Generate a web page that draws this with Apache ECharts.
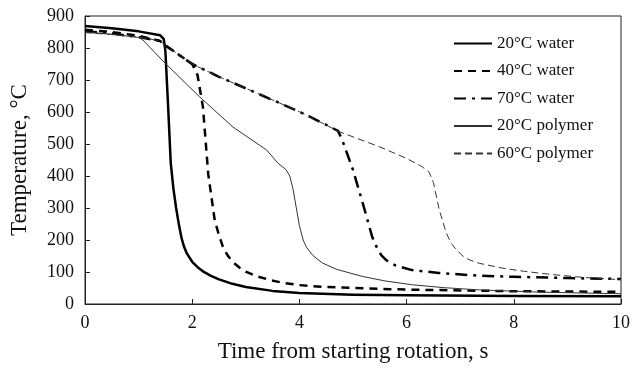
<!DOCTYPE html>
<html><head><meta charset="utf-8">
<script src="https://cdn.jsdelivr.net/npm/echarts@6/dist/echarts.min.js"></script>
<style>html,body{margin:0;padding:0;background:#fff}#c{width:633px;height:370px}</style>
</head><body><div id="c"></div>
<script>
const seriesNames = ['20°C water', '40°C water', '70°C water', '20°C polymer', '60°C polymer'];
const xTicks = [0, 2, 4, 6, 8, 10];
const yTicks = [0, 100, 200, 300, 400, 500, 600, 700, 800, 900];

const water20 = [[0,869],[0.5,862],[1.0,852],[1.4,840],[1.47,828],[1.5,790],[1.55,620],[1.6,440],[1.65,360],[1.7,300],[1.75,250],[1.8,207],[1.85,178],[1.9,158],[2.0,132],[2.1,115],[2.2,102],[2.35,88],[2.5,77],[2.75,63],[3.0,53],[3.5,41],[4.0,34],[5,29],[6,27],[8,25],[10,24]];
const water40 = [[0,857],[0.5,850],[1.0,838],[1.4,822],[1.5,808],[2.0,750],[2.1,715],[2.2,616],[2.3,405],[2.42,262],[2.5,215],[2.57,180],[2.66,152],[2.76,131],[2.88,114],[3.0,101],[3.2,87],[3.45,75],[3.7,66],[4.0,59],[4.5,53],[5,50],[6,45],[8,40],[10,38]];
const water70 = [[0,852],[0.5,845],[1.0,834],[1.4,822],[1.5,808],[2.0,750],[2.5,710],[3.0,674],[3.63,628],[4.0,601],[4.5,560],[4.72,541],[4.8,512],[5.0,419],[5.18,316],[5.36,209],[5.45,175],[5.53,152],[5.62,137],[5.8,120],[6.1,106],[6.6,97],[7.3,89],[8,85],[9,81],[10,78]];
const polymer20 = [[0,850],[0.5,843],[1.0,833],[1.08,825],[1.45,760],[2.14,647],[2.76,553],[3.39,481],[3.6,440],[3.75,420],[3.82,400],[3.88,360],[4.0,245],[4.07,200],[4.13,178],[4.25,152],[4.43,128],[4.7,108],[5.18,86],[5.6,72],[6.11,60],[6.7,51],[7.36,44],[8.5,37],[10,32]];
const polymer60 = [[0,848],[0.5,842],[1.0,834],[1.4,822],[1.5,808],[2.0,750],[2.5,710],[3.0,674],[3.63,628],[4.0,601],[4.75,538],[5.5,491],[6.0,455],[6.29,429],[6.42,412],[6.5,380],[6.61,294],[6.74,222],[6.83,190],[6.93,169],[7.05,150],[7.17,138],[7.36,127],[7.79,112],[8.2,102],[8.72,92],[9.3,83],[10,76]];

const font = 'Liberation Serif';
const chart = echarts.init(document.getElementById('c'));
function mk(name, data, width, color, type) {
  return { name, type: 'line', data, symbol: 'none', smooth: false, z: 3,
    lineStyle: { width, color, type, join: 'round' }, itemStyle: { color } };
}
chart.setOption({
  animation: false,
  grid: { left: 85, right: 11, top: 16, bottom: 66, show: true, borderColor: '#222', borderWidth: 1 },
  legend: {
    orient: 'vertical', left: 448, top: 30, itemWidth: 38, itemHeight: 12, itemGap: 10.5,
    itemStyle: { opacity: 0 },
    textStyle: { fontFamily: font, fontSize: 17, color: '#111' },
    data: seriesNames
  },
  xAxis: {
    type: 'value', min: 0, max: 10, interval: 2,
    name: 'Time from starting rotation, s', nameLocation: 'middle', nameGap: 36,
    nameTextStyle: { fontFamily: font, fontSize: 23, color: '#111' },
    axisLine: { show: true, lineStyle: { color: '#222', width: 1 } },
    axisTick: { show: true, inside: true, length: 5, lineStyle: { color: '#222' } },
    axisLabel: { fontFamily: font, fontSize: 18, color: '#111', margin: 10 },
    splitLine: { show: false }
  },
  yAxis: {
    type: 'value', min: 0, max: 900, interval: 100,
    name: 'Temperature, °C', nameLocation: 'middle', nameGap: 54,
    nameTextStyle: { fontFamily: font, fontSize: 23, color: '#111' },
    axisLine: { show: true, lineStyle: { color: '#222', width: 1 } },
    axisTick: { show: true, inside: true, length: 5, lineStyle: { color: '#222' } },
    axisLabel: { fontFamily: font, fontSize: 18, color: '#111', margin: 11 },
    splitLine: { show: false }
  },
  series: [
    mk(seriesNames[0], water20, 2.5, '#000', 'solid'),
    mk(seriesNames[1], water40, 2.5, '#000', [8, 6]),
    mk(seriesNames[2], water70, 2.5, '#000', [12, 6, 3, 6]),
    mk(seriesNames[3], polymer20, 1, '#333', 'solid'),
    mk(seriesNames[4], polymer60, 1, '#333', [7, 4])
  ]
});
</script></body></html>
